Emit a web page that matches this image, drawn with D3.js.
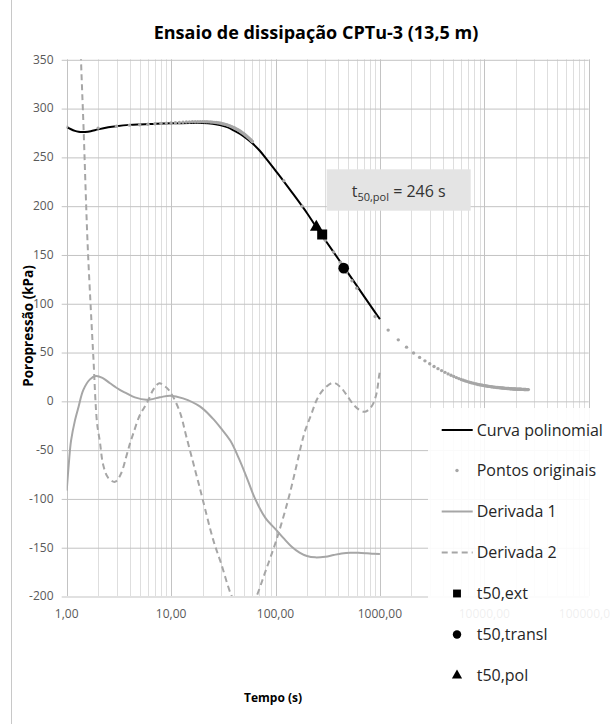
<!DOCTYPE html>
<html>
<head>
<meta charset="utf-8">
<script src="https://cdn.jsdelivr.net/npm/d3@7"></script>
<style>
  body { margin: 0; background: #fff; }
  text { font-family: "Open Sans", sans-serif; }
</style>
</head>
<body>
<svg id="chart" width="611" height="724"></svg>
<script>
// ---- Dissipation test CPTu-3 (13,5 m) ----

// Polynomial fit of the pore pressure (kPa) against time (s)
const curvaTempo = [1, 1.1, 1.2, 1.3, 1.4, 1.5, 1.7, 2, 2.5, 3, 4, 5, 7, 10, 15, 20, 25, 30, 35, 40,
  50, 60, 70, 80, 100, 120, 150, 200, 246, 300, 400, 500, 600, 700, 800, 900, 1000];
const curvaPoropressao = [280.8, 278.3, 276.6, 275.7, 275.4, 275.5, 276.3, 278.2, 280.3, 281.5, 282.8,
  283.3, 283.8, 284.4, 284.8, 284.8, 284.0, 282.5, 280.2, 277.0, 270.8, 264.0, 256.8, 249.3, 236.0,
  225.0, 211.0, 192.5, 178.0, 164.6, 145.3, 130.3, 118.0, 107.6, 98.6, 90.7, 83.8];

// Original readings
const pontosTempo = [1, 2, 3, 4, 5, 6, 7, 8, 9, 10, 11, 12, 13, 14, 15, 16, 17, 18, 19, 20,
  21, 22, 23, 24, 25, 26, 27, 28, 29, 30, 31, 32, 33, 34, 35, 36, 37, 38, 39, 40,
  41, 42, 43, 44, 45, 46, 47, 48, 49, 50, 51, 52, 53, 54, 55, 56, 57, 58, 59, 60,
  120, 180, 240, 300, 360, 420, 480, 540, 600,
  900, 1200, 1500, 1800, 2100, 2400, 2700, 3000, 3300, 3600, 3900, 4200, 4500, 4800, 5100,
  5400, 5700, 6000, 6300, 6600, 6900, 7200, 7500, 7800, 8100, 8400, 8700, 9000, 9300, 9600,
  9900, 10200, 10500, 10800, 11100, 11400, 11700, 12000, 12300, 12600, 12900, 13200, 13500,
  13800, 14100, 14400, 14700, 15000, 15300, 15600, 15900, 16200, 16500, 16800, 17100, 17400,
  17700, 18000, 18300, 18600, 18900, 19200, 19500, 19800, 20100, 20400, 20700, 21000, 21300,
  21600, 21900, 22200, 22500, 22800, 23100, 23400, 23700, 24000, 24300, 24600, 24900, 25200,
  25500, 25800, 26100, 26400];
const pontosPoropressao = [280.5, 279.5, 281.5, 282.5, 283.0, 283.5, 284.0, 284.3, 284.6, 284.8,
  285.0, 285.3, 285.5, 285.7, 285.8, 286.0, 286.0, 286.1, 286.1, 286.1,
  286.0, 286.0, 285.9, 285.8, 285.6, 285.4, 285.2, 285.0, 284.7, 284.4,
  284.0, 283.7, 283.3, 282.9, 282.4, 282.0, 281.5, 281.0, 280.4, 279.9,
  279.3, 278.7, 278.1, 277.5, 276.8, 276.2, 275.5, 274.8, 274.1, 273.4,
  272.7, 272.0, 271.2, 270.5, 269.7, 269.0, 268.2, 267.4, 266.6, 265.8,
  225.5, 199.5, 180.0, 164.5, 152.5, 142.0, 131.5, 123.0, 115.5,
  86.5, 72.5, 62.5, 55.0, 49.0, 44.5, 41.0, 38.0, 35.2, 33.0, 31.0, 29.2, 27.6, 26.2, 24.9,
  23.8, 22.8, 21.9, 21.1, 20.4, 19.7, 19.1, 18.6, 18.1, 17.6, 17.2, 16.8, 16.5, 16.2, 15.9,
  15.6, 15.4, 15.2, 15.0, 14.8, 14.6, 14.4, 14.3, 14.1, 14.0, 13.8, 13.7, 13.6,
  13.5, 13.4, 13.3, 13.2, 13.1, 13.0, 12.9, 12.8, 12.8, 12.7, 12.6, 12.6, 12.5,
  12.4, 12.4, 12.3, 12.3, 12.2, 12.2, 12.1, 12.1, 12.0, 12.0, 12.0, 11.9, 11.9,
  11.9, 11.8, 11.8, 11.8, 11.7, 11.7, 11.7, 11.7, 11.6, 11.6, 11.6, 11.6, 11.5,
  11.5, 11.5, 11.5, 11.5];

// First derivative of the fit
const d1Tempo = [1, 1.05, 1.1, 1.2, 1.3, 1.44, 1.67, 1.9, 2.2, 2.6, 3.2, 3.75, 4.5, 5.8, 7.8, 9.8,
  13, 19, 25, 30, 37, 45, 55, 63.5, 80, 102, 120, 143, 170, 200, 240, 300, 360, 430, 520, 620,
  750, 870, 1000];
const d1Valor = [-92, -63, -41, -20, -6, 11, 22, 25.4, 23.5, 18, 11.5, 7.7, 3.5, 1.0, 3.6, 5.3,
  2.5, -6, -18, -28, -41, -60, -83, -100, -120, -132.5, -141, -149.5, -155.5, -159, -160.4,
  -159.7, -158, -156.5, -155.7, -155.8, -156.3, -156.8, -157];

// Second derivative of the fit
const d2Tempo = [1.2, 1.3, 1.37, 1.45, 1.58, 1.7, 1.8, 1.95, 2.08, 2.24, 2.5, 2.9, 3.3, 3.7, 4.04,
  4.35, 5, 5.84, 6.8, 7.7, 8.7, 9.77, 12, 14.1, 18.9, 25.4, 30, 38, 45, 52, 58, 66, 80, 102, 132,
  160, 178, 193, 220, 248, 290, 358, 420, 480, 560, 640, 720, 800, 865, 930, 985, 1000];
const d2Valor = [560, 430, 350, 280, 165, 95, 45, -22, -42, -66, -79, -83, -75, -58, -43.6,
  -33.3, -15, -2.6, 12, 18, 15, 9.3, -10, -38, -90, -143, -166, -200, -214, -220, -213, -200,
  -175, -142.6, -101.7, -65, -43.6, -30, -14, 0.8, 12, 18.5, 14, 6, -4, -9.5, -11.2, -8, -2.6,
  8, 26.4, 30];

// t50 estimates [time (s), pore pressure (kPa)]
const t50ext = [280, 170.5];
const t50transl = [450, 136];
const t50pol = [246, 178];

// Axes
const xTicks = [1, 10, 100, 1000, 10000, 100000];
const yTicks = [-200, -150, -100, -50, 0, 50, 100, 150, 200, 250, 300, 350];
const legendNames = ["Curva polinomial", "Pontos originais", "Derivada 1", "Derivada 2",
  "t50,ext", "t50,transl", "t50,pol"];

// ---- layout ----
const W = 611;
const plot = { left: 66.7, right: 588.7, top: 59.3, bottom: 596 };
const svg = d3.select("#chart");
const ptBR = d3.formatLocale({ decimal: ",", thousands: ".", grouping: [3], currency: ["R$", ""] });
const fmt2 = ptBR.format(".2f");

const x = d3.scaleLog().domain([1, 100000]).range([plot.left, plot.right]);
const y = d3.scaleLinear().domain([-200, 350]).range([plot.bottom, plot.top]);

const GRID_MAJOR = "#c3c3c3", GRID_MINOR = "#dedede", GRAY = "#a6a6a6", TXT = "#595959";

svg.append("rect").attr("width", W).attr("height", 724).attr("fill", "#fff");
// outer chart frame (left edge)
svg.append("line").attr("x1", 11.5).attr("x2", 11.5).attr("y1", 0).attr("y2", 724)
  .attr("stroke", "#c8c8c8").attr("stroke-width", 1);

// minor vertical gridlines
const minor = [];
[1, 10, 100, 1000, 10000].forEach(d => { for (let k = 2; k <= 9; k++) minor.push(d * k); });
svg.append("g").selectAll("line").data(minor).join("line")
  .attr("x1", d => Math.round(x(d)) + 0.5).attr("x2", d => Math.round(x(d)) + 0.5)
  .attr("y1", plot.top).attr("y2", plot.bottom)
  .attr("stroke", GRID_MINOR).attr("stroke-width", 1);

// major vertical gridlines
svg.append("g").selectAll("line").data(xTicks).join("line")
  .attr("x1", d => Math.round(x(d)) + 0.5).attr("x2", d => Math.round(x(d)) + 0.5)
  .attr("y1", plot.top).attr("y2", plot.bottom)
  .attr("stroke", GRID_MAJOR).attr("stroke-width", 1);

// horizontal gridlines (with outside ticks) from the y axis
const yAxis = d3.axisLeft(y).tickValues(yTicks).tickFormat("")
  .tickSize(plot.right - plot.left + 5);
const gy = svg.append("g").attr("transform", `translate(${plot.right},0)`).call(yAxis);
gy.select(".domain").remove();
gy.selectAll(".tick line").attr("stroke", GRID_MAJOR).attr("transform", "translate(0,0.5)");

// y tick labels
svg.append("g").selectAll("text").data(yTicks).join("text")
  .attr("x", 53.5).attr("y", d => y(d)).attr("dy", "0.36em")
  .attr("text-anchor", "end").attr("fill", TXT).attr("font-size", 12)
  .text(d => String(d));

// x tick labels (the last one is trimmed by the chart's right edge)
svg.append("g").selectAll("text").data(xTicks).join("text")
  .attr("x", d => x(d)).attr("y", 613.5).attr("dy", "0.36em")
  .attr("text-anchor", "middle").attr("fill", TXT).attr("font-size", 12)
  .text(d => {
    const s = fmt2(d);
    return d >= 100000 ? s.slice(0, -1) : s;
  })
  .each(function () {
    const b = this.getBBox();
    if (b.x + b.width > W - 1) d3.select(this).attr("text-anchor", "end").attr("x", W - 1);
  });

// clip for series
svg.append("clipPath").attr("id", "plotClip").append("rect")
  .attr("x", plot.left).attr("y", plot.top)
  .attr("width", plot.right - plot.left).attr("height", plot.bottom - plot.top);

const zipSeries = (ts, vs) => ts.map((t, i) => ({ t, v: vs[i] }));
const line = d3.line().x(d => x(d.t)).y(d => y(d.v)).curve(d3.curveCatmullRom.alpha(0.5));
const series = svg.append("g").attr("clip-path", "url(#plotClip)");

// polynomial curve
series.append("path").datum(zipSeries(curvaTempo, curvaPoropressao))
  .attr("d", line).attr("fill", "none").attr("stroke", "#000").attr("stroke-width", 2);

// original points
series.append("g").selectAll("circle").data(zipSeries(pontosTempo, pontosPoropressao)).join("circle")
  .attr("cx", d => x(d.t)).attr("cy", d => y(d.v)).attr("r", 1.7).attr("fill", GRAY);

// derivatives
series.append("path").datum(zipSeries(d1Tempo, d1Valor))
  .attr("d", line).attr("fill", "none").attr("stroke", GRAY).attr("stroke-width", 2);
series.append("path").datum(zipSeries(d2Tempo, d2Valor))
  .attr("d", line).attr("fill", "none").attr("stroke", GRAY).attr("stroke-width", 2)
  .attr("stroke-dasharray", "6,4");

// t50 markers
const sym = (type, size) => d3.symbol().type(type).size(size)();
series.append("path").attr("d", sym(d3.symbolTriangle, 70))
  .attr("transform", `translate(${x(t50pol[0])},${y(t50pol[1])})`).attr("fill", "#000");
series.append("path").attr("d", sym(d3.symbolSquare, 100))
  .attr("transform", `translate(${x(t50ext[0])},${y(t50ext[1])})`).attr("fill", "#000");
series.append("path").attr("d", sym(d3.symbolCircle, 90))
  .attr("transform", `translate(${x(t50transl[0])},${y(t50transl[1])})`).attr("fill", "#000");

// annotation box
const ann = svg.append("g");
ann.append("rect").attr("x", 326.7).attr("y", 169.3).attr("width", 144).attr("height", 41.4)
  .attr("fill", "#e4e4e4");
const annText = ann.append("text").attr("x", 398.7).attr("y", 197).attr("text-anchor", "middle")
  .attr("fill", "#333").attr("font-size", 16);
annText.append("tspan").text("t");
annText.append("tspan").attr("font-size", 11).attr("dy", 4).text("50,pol");
annText.append("tspan").attr("dy", -4).text(` = ${t50pol[0]} s`);

// legend
const lg = svg.append("g");
lg.append("rect").attr("x", 428).attr("y", 408).attr("width", 200).attr("height", 330)
  .attr("fill", "#fff").attr("fill-opacity", 0.9);
const legendY = [430, 470.5, 511.5, 552.5, 593.5, 634.5, 675.5];
const lx0 = 441.7, lx1 = 472.7, lxc = 457, ltx = 476.7;
legendNames.forEach((name, i) => {
  const g = lg.append("g").attr("transform", `translate(0,${legendY[i]})`);
  if (i === 0) g.append("line").attr("x1", lx0).attr("x2", lx1).attr("stroke", "#000").attr("stroke-width", 2);
  if (i === 1) g.append("circle").attr("cx", lxc).attr("r", 1.7).attr("fill", GRAY);
  if (i === 2) g.append("line").attr("x1", lx0).attr("x2", lx1).attr("stroke", GRAY).attr("stroke-width", 2);
  if (i === 3) g.append("line").attr("x1", lx0).attr("x2", lx1).attr("stroke", GRAY).attr("stroke-width", 2)
    .attr("stroke-dasharray", "6,4");
  if (i === 4) g.append("path").attr("d", sym(d3.symbolSquare, 62)).attr("transform", `translate(${lxc},0)`);
  if (i === 5) g.append("path").attr("d", sym(d3.symbolCircle, 56)).attr("transform", `translate(${lxc},0)`);
  if (i === 6) g.append("path").attr("d", sym(d3.symbolTriangle, 45)).attr("transform", `translate(${lxc},0)`);
  g.append("text").attr("x", ltx).attr("dy", "0.36em").attr("font-size", 16).attr("fill", "#262626")
    .text(name);
});

// titles
svg.append("text").attr("x", 316).attr("y", 39).attr("text-anchor", "middle")
  .attr("font-size", 18).attr("font-weight", 700).attr("fill", "#000")
  .text("Ensaio de dissipação CPTu-3 (13,5 m)");
svg.append("text").attr("transform", "translate(28,326) rotate(-90)").attr("dy", "0.36em")
  .attr("text-anchor", "middle").attr("font-size", 13.5).attr("font-weight", 700).attr("fill", "#000")
  .text("Poropressão (kPa)");
svg.append("text").attr("x", 273).attr("y", 698).attr("dy", "0.36em").attr("text-anchor", "middle")
  .attr("font-size", 12).attr("font-weight", 700).attr("fill", "#000")
  .text("Tempo (s)");
</script>
</body>
</html>
